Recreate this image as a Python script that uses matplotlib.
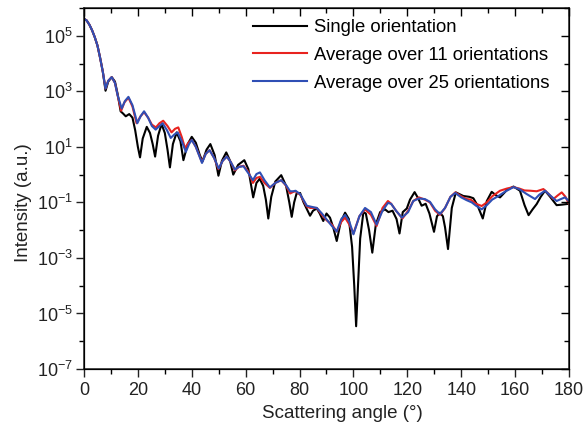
import numpy as np
import matplotlib
matplotlib.use("Agg")
import matplotlib.pyplot as plt
from matplotlib.ticker import MultipleLocator, NullFormatter, FixedLocator

plt.rcParams['font.family'] = ['Liberation Sans', 'DejaVu Sans']
plt.rcParams['mathtext.fontset'] = 'custom'
plt.rcParams['mathtext.rm'] = 'Liberation Sans'

# ---- data: scattering angle (deg) and log10(intensity) ----
single_angle = [0, 1, 2, 3, 4, 5, 6, 7, 8, 9, 10.3, 11.5, 12.5, 13.6, 14.5, 15.5, 16.8, 18, 19, 20,
                20.8, 21.8, 23.3, 24.5, 25.5, 26.4, 27.5, 28.8, 30, 31, 31.9, 33, 34.4, 35.8, 36.9,
                38.5, 40, 41.5, 43, 44, 45.5, 46.9, 48.5, 49.9, 51.2, 52.8, 54.2, 55.4, 57.2, 59.5,
                61, 62.8, 64, 65.2, 66.5, 67.5, 68.4, 69.5, 71, 73.2, 75, 76.2, 77.1, 78, 78.9, 80.2,
                81.5, 83.9, 85, 86.4, 87.5, 88.8, 90, 91.3, 92.5, 93.8, 95.3, 96.9, 98.3, 99.5, 100.3,
                101, 101.7, 102.5, 103.7, 104.6, 105.8, 107, 108.3, 109.9, 111.7, 113, 114.5, 116,
                117.1, 118.3, 119.8, 121, 122.7, 124, 125.3, 126.8, 128.2, 129.9, 131, 132.1, 133.2,
                134, 135.1, 136.5, 138, 140.8, 143, 144.5, 146, 148, 149.5, 151.3, 153, 154.4, 157,
                159.4, 161.8, 163.5, 165, 166.5, 168, 169.5, 171.1, 173, 175.4, 177.5, 180]
single_log = [5.61, 5.55, 5.40, 5.20, 4.95, 4.65, 4.20, 3.70, 3.02, 3.35, 3.51, 3.35, 2.90, 2.28, 2.20,
              2.10, 2.18, 2.05, 1.60, 1.00, 0.62, 1.30, 1.72, 1.50, 1.10, 0.65, 1.40, 1.82, 1.50, 0.90,
              0.26, 1.10, 1.52, 1.20, 0.52, 1.10, 1.36, 1.15, 0.70, 0.48, 0.90, 1.10, 0.70, -0.04, 0.50,
              0.80, 0.50, 0.00, 0.35, 0.52, 0.20, -0.82, -0.30, -0.15, -0.40, -0.90, -1.58, -0.80, -0.25,
              -0.02, -0.40, -1.00, -1.52, -1.00, -0.68, -0.66, -1.00, -1.48, -1.30, -1.22, -1.40, -1.67,
              -1.40, -1.55, -1.90, -2.39, -1.70, -1.37, -1.60, -2.60, -4.00, -5.46, -4.00, -2.30, -1.35,
              -1.40, -2.00, -2.81, -1.80, -1.35, -1.25, -1.35, -1.30, -1.60, -2.12, -1.35, -1.22, -0.90,
              -0.63, -0.85, -1.12, -1.05, -1.40, -2.06, -1.50, -1.37, -1.50, -1.90, -2.68, -1.20, -0.64,
              -0.77, -0.80, -0.85, -1.10, -1.58, -0.95, -0.62, -0.75, -0.82, -0.55, -0.43, -0.58, -1.10,
              -1.46, -1.25, -1.06, -0.80, -0.58, -0.80, -1.10, -1.08, -1.05]

avg11_angle = [0, 1, 2, 3, 4, 5, 6, 7, 8, 9, 10.3, 11.5, 12.5, 13.8, 15, 16.5, 18, 19.5, 21, 22.3, 23.8,
               25.2, 26.7, 28, 29.4, 31, 32.5, 33.8, 35, 36.3, 37.5, 38.8, 40, 41.5, 43.8, 45.2, 46.6,
               48.3, 49.9, 51.5, 53, 54.5, 56, 57.5, 59.2, 61, 62.7, 64, 65.3, 67, 69, 71, 73.2, 75,
               76.5, 77.7, 78.5, 80.2, 82.7, 84, 86.4, 88.3, 90.1, 92, 93.8, 95.5, 96.9, 98.5, 100,
               102.2, 104.3, 106.5, 108.6, 110.8, 112.8, 114, 115.8, 118.2, 120.3, 122.2, 124.3, 126.5,
               128.4, 130.3, 132.1, 134, 136, 137.8, 140, 142, 143.5, 145.5, 147.6, 149.5, 151.5, 154.4,
               157, 159.4, 161.5, 163.5, 165.6, 168, 170.5, 172.5, 174.2, 175.8, 177.3, 178.7, 180]
avg11_log = [5.61, 5.55, 5.40, 5.20, 4.95, 4.65, 4.20, 3.70, 3.10, 3.38, 3.51, 3.30, 2.85, 2.30, 2.60,
             2.77, 2.45, 1.85, 2.10, 2.25, 2.05, 1.80, 1.70, 1.85, 1.94, 1.75, 1.52, 1.65, 1.70, 1.35,
             0.95, 1.15, 1.25, 1.00, 0.45, 0.75, 0.88, 0.60, 0.20, 0.50, 0.65, 0.45, 0.15, 0.28, 0.32,
             0.10, -0.30, -0.12, -0.08, -0.30, -0.48, -0.30, -0.20, -0.40, -0.68, -0.62, -0.60, -0.72,
             -1.15, -1.20, -1.20, -1.45, -1.65, -1.80, -2.05, -1.70, -1.55, -1.80, -2.12, -1.50, -1.25,
             -1.45, -1.85, -1.20, -0.95, -1.05, -1.30, -1.58, -1.30, -0.95, -0.82, -0.90, -1.00, -1.30,
             -1.45, -1.20, -0.80, -0.64, -0.78, -0.88, -0.90, -1.05, -1.13, -1.00, -0.78, -0.58, -0.50,
             -0.45, -0.50, -0.57, -0.58, -0.60, -0.52, -0.70, -0.88, -0.75, -0.64, -0.80, -1.06]

avg25_angle = [0, 1, 2, 3, 4, 5, 6, 7, 8, 9, 10.3, 11.5, 12.5, 14, 15.2, 16.5, 18, 19.8, 21, 22.3, 23.8,
               25.2, 26.6, 28, 29.2, 30.8, 32.2, 33.6, 34.8, 36.3, 37.8, 39, 40, 41.5, 43.8, 45.2, 46.6,
               48.3, 50, 51.5, 53, 54.5, 56, 57.5, 59.2, 61, 62.7, 64, 65.3, 67, 69, 71, 73.2, 75, 76.5,
               77.7, 78.5, 80.2, 82.7, 84, 86.4, 88.3, 90.1, 92, 93.8, 95.5, 96.9, 98.5, 100, 102.2,
               104.3, 106.5, 108.6, 110.8, 112.8, 114, 115.8, 118, 120.3, 122.2, 124.3, 126.5, 128.4,
               130.3, 132.1, 134, 136, 137.8, 140, 142, 143.9, 145.5, 147.6, 149.5, 151.5, 153.8, 156.5,
               159.4, 161.5, 164.3, 167.4, 169, 171.1, 173, 175.4, 177, 178.5, 180]
avg25_log = [5.61, 5.55, 5.40, 5.20, 4.95, 4.65, 4.20, 3.70, 3.10, 3.38, 3.51, 3.30, 2.85, 2.38, 2.65,
             2.80, 2.50, 1.85, 2.10, 2.28, 2.05, 1.75, 1.62, 1.75, 1.85, 1.60, 1.32, 1.45, 1.52, 1.20,
             0.82, 1.10, 1.25, 1.00, 0.42, 0.75, 0.88, 0.60, 0.22, 0.50, 0.65, 0.45, 0.18, 0.28, 0.30,
             0.05, -0.20, 0.02, 0.08, -0.20, -0.46, -0.30, -0.20, -0.38, -0.60, -0.60, -0.58, -0.70,
             -1.12, -1.15, -1.20, -1.40, -1.62, -1.85, -2.05, -1.60, -1.45, -1.70, -2.15, -1.50, -1.20,
             -1.35, -1.80, -1.30, -1.02, -1.05, -1.30, -1.55, -1.35, -0.95, -0.86, -0.88, -0.98, -1.25,
             -1.42, -1.20, -0.80, -0.66, -0.82, -0.92, -1.00, -1.12, -1.25, -1.10, -0.90, -0.77, -0.60,
             -0.45, -0.52, -0.70, -0.88, -0.72, -0.58, -0.75, -0.95, -0.88, -0.82, -0.95]

labels = ["Single orientation", "Average over 11 orientations", "Average over 25 orientations"]
colors = ["#000000", "#e8231f", "#2f4fb5"]

# ---- figure ----
fig = plt.figure(figsize=(5.86, 4.32), dpi=100)
ax = fig.add_axes([0.1433, 0.1458, 0.8277, 0.8357])

for a, l, lab, c in zip([single_angle, avg11_angle, avg25_angle],
                        [single_log, avg11_log, avg25_log], labels, colors):
    ax.plot(a, 10.0 ** np.array(l), color=c, lw=1.5, label=lab, solid_joinstyle='round')

ax.set_yscale('log')
ax.set_xlim(0, 180)
ax.set_ylim(1e-7, 1e6)

major_y = [1e-7, 1e-5, 1e-3, 1e-1, 1e1, 1e3, 1e5]
minor_y = [1e-6, 1e-4, 1e-2, 1e0, 1e2, 1e4, 1e6]
ax.xaxis.set_major_locator(MultipleLocator(20))
ax.xaxis.set_minor_locator(MultipleLocator(10))
ax.yaxis.set_major_locator(FixedLocator(major_y))
ax.yaxis.set_minor_locator(FixedLocator(minor_y))
ax.yaxis.set_minor_formatter(NullFormatter())

ax.tick_params(which='major', direction='out', length=6, width=1, labelsize=13, colors='#222222')
ax.tick_params(which='minor', direction='out', length=3.5, width=1)
ax.tick_params(axis='x', pad=3)
ax.tick_params(axis='y', pad=2)

for s in ax.spines.values():
    s.set_linewidth(1.1)
    s.set_color('#222222')

# mirrored ticks pointing inward on top and right
axr = ax.twinx()
axr.set_yscale('log')
axr.set_ylim(ax.get_ylim())
axr.yaxis.set_major_locator(FixedLocator(major_y))
axr.yaxis.set_minor_locator(FixedLocator(minor_y))
axr.tick_params(which='major', direction='in', length=6, width=1, labelright=False)
axr.tick_params(which='minor', direction='in', length=3.5, width=1, labelright=False)
axt = ax.twiny()
axt.set_xlim(ax.get_xlim())
axt.xaxis.set_major_locator(MultipleLocator(20))
axt.xaxis.set_minor_locator(MultipleLocator(10))
axt.tick_params(which='major', direction='in', length=6, width=1, labeltop=False)
axt.tick_params(which='minor', direction='in', length=3.5, width=1, labeltop=False)

ax.set_xlabel("Scattering angle (°)", fontsize=13.5, color='#222222', labelpad=6)
ax.xaxis.set_label_coords(0.532, -0.1)
ax.set_ylabel("Intensity (a.u.)", fontsize=13.5, color='#222222', labelpad=3)
ax.yaxis.set_label_coords(-0.107, 0.46)

leg = ax.legend(loc='upper left', bbox_to_anchor=(0.322, 1.005), frameon=False, fontsize=13.3,
                handlelength=2.9, handletextpad=0.4, labelspacing=0.58, borderaxespad=0.3)

fig.savefig("out.png", dpi=100)
